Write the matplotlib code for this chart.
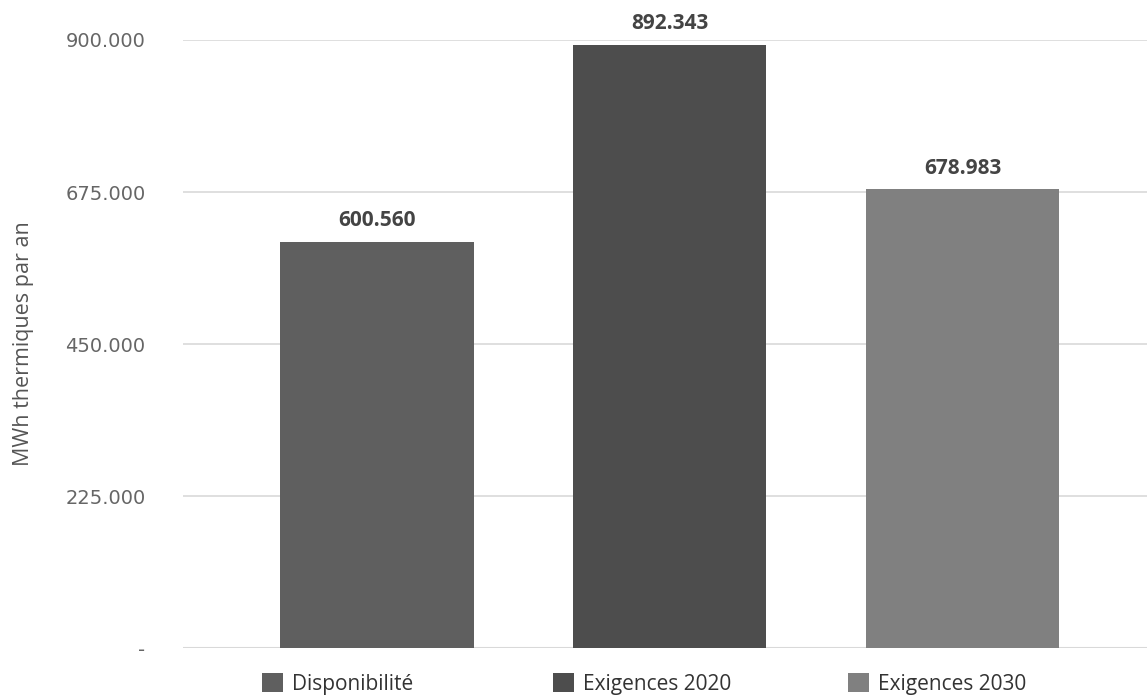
import matplotlib.pyplot as plt
from matplotlib.patches import Patch

categories = ['Disponibilité', 'Exigences 2020', 'Exigences 2030']
values = [600560, 892343, 678983]
labels = ['600.560', '892.343', '678.983']
colors = ['#5f5f5f', '#4d4d4d', '#808080']
yticks = [0, 225000, 450000, 675000, 900000]
ytick_labels = ['-', '225.000', '450.000', '675.000', '900.000']

plt.rcParams['font.family'] = ['Open Sans', 'DejaVu Sans']

fig = plt.figure(figsize=(11.47, 6.98), dpi=100)
ax = fig.add_axes([0.1596, 0.0716, 0.8404, 0.8711])

x = range(len(categories))
bars = ax.bar(x, values, width=0.66, color=colors, zorder=3)
for b, lab in zip(bars, labels):
    ax.text(b.get_x() + b.get_width() / 2, b.get_height() + 16000, lab,
            ha='center', va='bottom', fontsize=15, fontweight='bold',
            color='#444444', clip_on=False)

ax.set_xlim(-0.662, 2.63)
ax.set_ylim(0, 900000)
ax.set_yticks(yticks)
ax.set_yticklabels(ytick_labels, fontsize=14, color='#666666', family='DejaVu Sans')
ax.set_xticks([])
ax.yaxis.grid(True, color='#d9d9d9', linewidth=1.2, zorder=0)
ax.tick_params(axis='y', length=0, pad=27)
for s in ax.spines.values():
    s.set_visible(False)
ax.axhline(0, color='#d9d9d9', linewidth=1.5, zorder=1)

ax.set_ylabel('MWh thermiques par an', fontsize=15.5, color='#555555')
ax.yaxis.set_label_coords(-0.155, 0.5)

# Excel-style legend: equal-width slots
leg_x = [262, 553, 848]
for c, name, lx in zip(colors, categories, leg_x):
    fig.legend([Patch(facecolor=c)], [name], loc='center left',
               bbox_to_anchor=(lx / 1147, 0.02), frameon=False, fontsize=15,
               borderpad=0, borderaxespad=0, handlelength=1.0, handleheight=1.0,
               handletextpad=0.45, labelcolor='#333333')

fig.savefig('out.png', dpi=100)
